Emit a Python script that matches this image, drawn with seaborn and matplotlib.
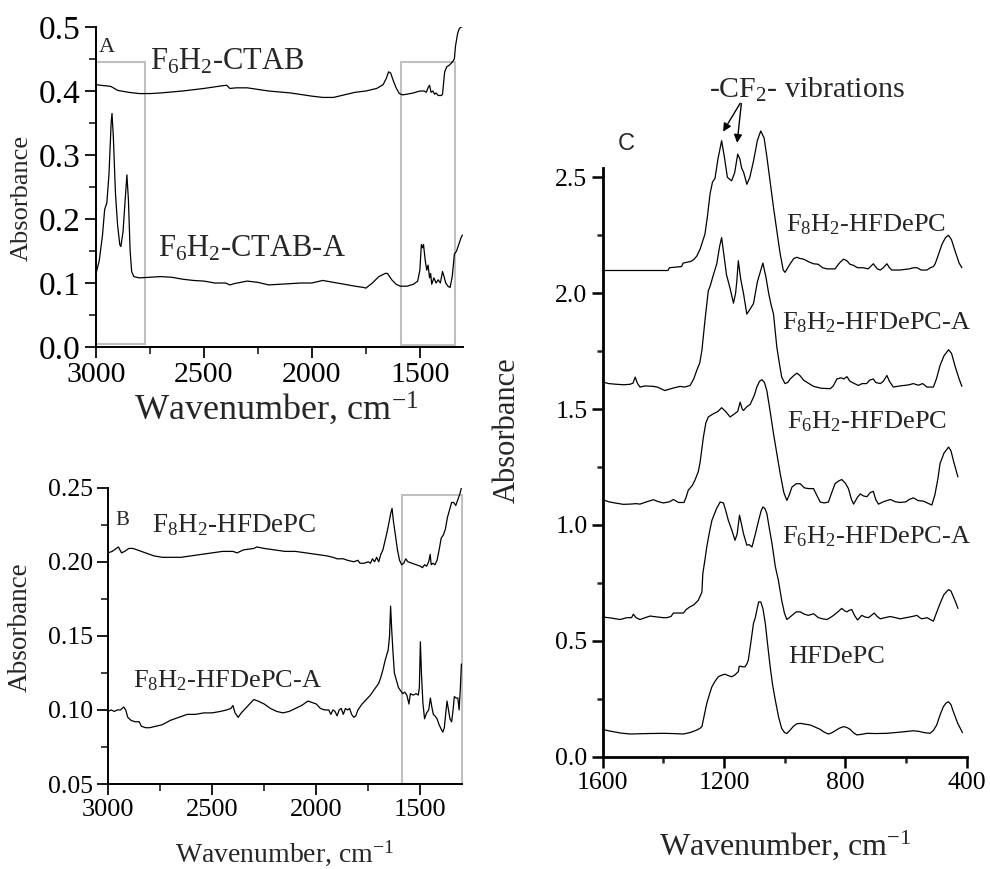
import matplotlib
matplotlib.use("Agg")
import matplotlib.pyplot as plt
from matplotlib.patches import Rectangle
from matplotlib.ticker import MultipleLocator
import seaborn as sns

# ---------------- data ----------------
# Panel A
a_top_wn = [3000, 2980, 2950, 2930, 2900, 2850, 2800, 2750, 2700, 2600, 2500, 2420, 2395, 2380,
            2350, 2300, 2200, 2100, 2000, 1950, 1900, 1850, 1800, 1750, 1700, 1670, 1655, 1645,
            1635, 1625, 1610, 1595, 1580, 1560, 1530, 1500, 1480, 1470, 1462, 1455, 1448, 1440,
            1432, 1425, 1415, 1400, 1395, 1385, 1375, 1365, 1350, 1340, 1335, 1325, 1318, 1310, 1305]
a_top_ab = [0.410, 0.409, 0.408, 0.407, 0.401, 0.398, 0.396, 0.396, 0.397, 0.400, 0.404, 0.408, 0.409, 0.404,
            0.405, 0.405, 0.400, 0.397, 0.392, 0.390, 0.390, 0.394, 0.398, 0.400, 0.404, 0.410, 0.420, 0.430,
            0.428, 0.418, 0.405, 0.396, 0.394, 0.395, 0.397, 0.400, 0.400, 0.398, 0.405, 0.409, 0.398, 0.400,
            0.395, 0.397, 0.393, 0.393, 0.395, 0.430, 0.438, 0.440, 0.445, 0.450, 0.470, 0.490, 0.497, 0.500, 0.500]

a_bot_wn = [3000, 2985, 2970, 2960, 2950, 2940, 2930, 2926, 2920, 2910, 2900, 2890, 2885, 2875, 2865, 2857,
            2850, 2842, 2835, 2825, 2800, 2750, 2700, 2650, 2600, 2550, 2500, 2450, 2400, 2380, 2360, 2300,
            2250, 2200, 2150, 2100, 2050, 2000, 1950, 1900, 1850, 1800, 1760, 1750, 1720, 1690, 1660, 1650,
            1630, 1610, 1590, 1560, 1530, 1510, 1500, 1493, 1487, 1483, 1475, 1468, 1462, 1455, 1450, 1445,
            1435, 1425, 1415, 1405, 1395, 1388, 1380, 1370, 1360, 1350, 1340, 1330, 1320, 1310, 1303]
a_bot_ab = [0.115, 0.135, 0.175, 0.215, 0.225, 0.270, 0.350, 0.365, 0.330, 0.240, 0.190, 0.160, 0.157, 0.180, 0.230, 0.269,
            0.230, 0.150, 0.118, 0.110, 0.108, 0.109, 0.110, 0.109, 0.106, 0.104, 0.103, 0.100, 0.100, 0.097, 0.099, 0.103,
            0.101, 0.097, 0.098, 0.099, 0.100, 0.100, 0.104, 0.101, 0.098, 0.095, 0.093, 0.092, 0.100, 0.110, 0.115, 0.115,
            0.105, 0.098, 0.095, 0.095, 0.098, 0.103, 0.120, 0.160, 0.155, 0.160, 0.135, 0.120, 0.128, 0.108, 0.115, 0.098,
            0.108, 0.100, 0.105, 0.100, 0.118, 0.110, 0.100, 0.095, 0.093, 0.110, 0.145, 0.150, 0.160, 0.170, 0.175]

# Panel B
b_top_wn = [3000, 2980, 2960, 2950, 2935, 2920, 2900, 2880, 2860, 2820, 2780, 2740, 2700, 2650, 2600, 2550,
            2500, 2450, 2400, 2380, 2350, 2300, 2285, 2250, 2200, 2150, 2100, 2050, 2000, 1950, 1920, 1900,
            1870, 1850, 1820, 1800, 1790, 1770, 1750, 1740, 1730, 1720, 1710, 1700, 1690, 1680, 1670, 1660,
            1650, 1642, 1636, 1630, 1620, 1610, 1600, 1590, 1580, 1570, 1560, 1540, 1520, 1500, 1490, 1480,
            1470, 1460, 1453, 1448, 1440, 1430, 1420, 1410, 1400, 1390, 1380, 1370, 1360, 1350, 1340, 1330,
            1320, 1310, 1303]
b_top_ab = [0.206, 0.207, 0.209, 0.210, 0.206, 0.207, 0.209, 0.209, 0.208, 0.206, 0.204, 0.203, 0.203, 0.203, 0.204, 0.205,
            0.206, 0.207, 0.207, 0.206, 0.208, 0.209, 0.210, 0.209, 0.208, 0.207, 0.207, 0.206, 0.205, 0.204, 0.203, 0.202,
            0.202, 0.201, 0.200, 0.201, 0.199, 0.199, 0.200, 0.199, 0.202, 0.200, 0.203, 0.200, 0.205, 0.208, 0.214, 0.220,
            0.227, 0.233, 0.236, 0.228, 0.218, 0.208, 0.201, 0.198, 0.199, 0.202, 0.200, 0.199, 0.198, 0.197, 0.196, 0.198,
            0.197, 0.200, 0.205, 0.198, 0.199, 0.198, 0.201, 0.208, 0.216, 0.218, 0.222, 0.230, 0.235, 0.240, 0.240, 0.238,
            0.242, 0.246, 0.250]

b_bot_wn = [3000, 2985, 2970, 2955, 2940, 2925, 2915, 2905, 2890, 2870, 2850, 2840, 2820, 2800, 2770, 2740,
            2700, 2660, 2620, 2580, 2540, 2500, 2460, 2430, 2410, 2400, 2390, 2375, 2360, 2340, 2320, 2300,
            2280, 2250, 2220, 2190, 2160, 2130, 2100, 2070, 2040, 2020, 2000, 1980, 1960, 1940, 1930, 1920,
            1910, 1900, 1890, 1880, 1870, 1860, 1850, 1840, 1830, 1820, 1810, 1800, 1780, 1760, 1740, 1720,
            1700, 1690, 1680, 1670, 1660, 1655, 1648, 1643, 1638, 1632, 1625, 1615, 1605, 1595, 1585, 1575,
            1565, 1555, 1548, 1535, 1520, 1510, 1505, 1500, 1495, 1488, 1480, 1470, 1460, 1452, 1445, 1438,
            1430, 1420, 1410, 1400, 1392, 1385, 1378, 1372, 1365, 1358, 1350, 1343, 1337, 1328, 1320, 1314,
            1308, 1303]
b_bot_ab = [0.099, 0.100, 0.099, 0.100, 0.100, 0.102, 0.100, 0.095, 0.093, 0.092, 0.092, 0.089, 0.088, 0.088, 0.089, 0.090,
            0.093, 0.095, 0.097, 0.097, 0.098, 0.098, 0.099, 0.100, 0.101, 0.103, 0.098, 0.095, 0.098, 0.101, 0.104, 0.107,
            0.106, 0.104, 0.101, 0.099, 0.098, 0.099, 0.101, 0.103, 0.106, 0.105, 0.104, 0.101, 0.100, 0.100, 0.097, 0.100,
            0.099, 0.096, 0.100, 0.101, 0.097, 0.101, 0.100, 0.101, 0.097, 0.095, 0.096, 0.100, 0.104, 0.107, 0.110, 0.114,
            0.118, 0.122, 0.127, 0.133, 0.138, 0.140, 0.150, 0.170, 0.155, 0.140, 0.125, 0.120, 0.115, 0.113, 0.111, 0.112,
            0.110, 0.104, 0.111, 0.110, 0.111, 0.110, 0.115, 0.146, 0.125, 0.105, 0.094, 0.098, 0.100, 0.108, 0.102, 0.097,
            0.096, 0.094, 0.090, 0.087, 0.085, 0.088, 0.098, 0.106, 0.100, 0.094, 0.092, 0.100, 0.109, 0.108, 0.108, 0.100,
            0.115, 0.131]

# Panel C
c1_wn = [1600, 1500, 1440, 1385, 1380, 1340, 1335, 1310, 1300, 1290, 1279, 1263, 1255, 1246, 1238, 1230,
         1220, 1208, 1198, 1189, 1175, 1165, 1155, 1148, 1142, 1135, 1125, 1115, 1103, 1090, 1079, 1068,
         1059, 1048, 1037, 1025, 1015, 1005, 999, 990, 982, 970, 960, 950, 938, 920, 905, 890, 875, 861,
         845, 834, 820, 806, 795, 785, 773, 760, 741, 725, 708, 695, 685, 675, 663, 655, 647, 620, 590,
         575, 564, 550, 531, 520, 510, 504, 495, 482, 470, 460, 450, 438, 425, 416]
c1_ab = [2.098, 2.098, 2.098, 2.098, 2.110, 2.115, 2.130, 2.137, 2.145, 2.160, 2.190, 2.255, 2.330, 2.430, 2.480, 2.495,
         2.580, 2.658, 2.580, 2.500, 2.485, 2.520, 2.600, 2.580, 2.540, 2.520, 2.470, 2.500, 2.570, 2.660, 2.700, 2.670,
         2.590, 2.480, 2.370, 2.260, 2.170, 2.100, 2.090, 2.110, 2.127, 2.150, 2.155, 2.150, 2.147, 2.135, 2.127, 2.125, 2.110, 2.105,
         2.105, 2.105, 2.130, 2.147, 2.140, 2.125, 2.120, 2.110, 2.110, 2.105, 2.127, 2.105, 2.100, 2.110, 2.127, 2.110, 2.100, 2.100, 2.105,
         2.110, 2.110, 2.100, 2.100, 2.110, 2.115, 2.127, 2.160, 2.210, 2.240, 2.250, 2.230, 2.180, 2.130, 2.110]

c2_wn = [1600, 1580, 1554, 1530, 1510, 1500, 1493, 1485, 1477, 1460, 1433, 1420, 1395, 1370, 1345, 1330,
         1312, 1300, 1290, 1280, 1273, 1263, 1252, 1246, 1235, 1224, 1215, 1208, 1200, 1192, 1180, 1169,
         1162, 1158, 1153, 1145, 1136, 1125, 1115, 1103, 1090, 1072, 1062, 1053, 1045, 1037, 1026, 1018,
         1010, 999, 990, 982, 970, 960, 950, 938, 920, 905, 880, 850, 840, 828, 815, 805, 795, 785, 770,
         757, 745, 730, 720, 708, 700, 685, 675, 663, 655, 642, 620, 600, 590, 576, 560, 545, 531, 510,
         500, 488, 475, 460, 450, 438, 425, 416]
c2_ab = [1.617, 1.610, 1.607, 1.605, 1.607, 1.612, 1.638, 1.610, 1.595, 1.600, 1.598, 1.595, 1.580, 1.590, 1.598, 1.595,
         1.602, 1.630, 1.667, 1.700, 1.753, 1.882, 2.010, 2.030, 2.080, 2.127, 2.200, 2.240, 2.160, 2.080, 2.020, 1.957,
         2.000, 2.050, 2.140, 2.060, 2.000, 1.910, 1.930, 1.955, 2.050, 2.130, 2.070, 2.000, 1.950, 1.910, 1.767, 1.700,
         1.638, 1.610, 1.615, 1.630, 1.645, 1.655, 1.645, 1.625, 1.610, 1.598, 1.590, 1.588, 1.600, 1.630, 1.635, 1.630, 1.640, 1.620, 1.610,
         1.602, 1.610, 1.610, 1.625, 1.630, 1.615, 1.610, 1.620, 1.645, 1.620, 1.595, 1.600, 1.603, 1.605, 1.610, 1.603, 1.610, 1.595, 1.595,
         1.630, 1.688, 1.730, 1.756, 1.740, 1.683, 1.630, 1.598]

c3_wn = [1600, 1580, 1560, 1532, 1510, 1490, 1477, 1455, 1433, 1415, 1400, 1380, 1367, 1350, 1332, 1325,
         1318, 1305, 1296, 1285, 1279, 1268, 1260, 1252, 1235, 1220, 1208, 1195, 1180, 1165, 1155, 1147,
         1140, 1136, 1125, 1114, 1100, 1092, 1083, 1075, 1067, 1059, 1048, 1037, 1025, 1015, 1003, 993,
         985, 976, 962, 949, 935, 922, 905, 895, 883, 870, 856, 845, 834, 822, 812, 800, 790, 780, 773,
         760, 751, 740, 729, 718, 708, 700, 691, 675, 652, 635, 619, 600, 590, 576, 560, 543, 530, 515,
         505, 495, 488, 475, 460, 452, 444, 436, 429]
c3_ab = [1.109, 1.100, 1.095, 1.089, 1.090, 1.092, 1.090, 1.100, 1.109, 1.100, 1.095, 1.100, 1.110, 1.097, 1.097, 1.120,
         1.150, 1.170, 1.193, 1.230, 1.270, 1.380, 1.440, 1.466, 1.480, 1.490, 1.506, 1.490, 1.466, 1.480, 1.490, 1.530,
         1.500, 1.494, 1.510, 1.520, 1.560, 1.595, 1.620, 1.627, 1.615, 1.580, 1.490, 1.394, 1.300, 1.222, 1.140, 1.106,
         1.130, 1.164, 1.178, 1.178, 1.160, 1.157, 1.157, 1.130, 1.099, 1.095, 1.099, 1.140, 1.178, 1.190, 1.196, 1.180, 1.157, 1.110, 1.090,
         1.120, 1.134, 1.125, 1.122, 1.140, 1.145, 1.110, 1.090, 1.100, 1.110, 1.100, 1.097, 1.100, 1.110, 1.117, 1.105, 1.103, 1.095, 1.086,
         1.130, 1.200, 1.265, 1.310, 1.336, 1.320, 1.278, 1.240, 1.207]

c4_wn = [1600, 1570, 1543, 1520, 1505, 1499, 1490, 1477, 1460, 1444, 1420, 1400, 1389, 1375, 1367, 1350,
         1334, 1325, 1312, 1300, 1285, 1273, 1270, 1263, 1257, 1248, 1240, 1225, 1213, 1202, 1194, 1186,
         1175, 1164, 1157, 1149, 1142, 1136, 1125, 1117, 1108, 1097, 1086, 1078, 1072, 1065, 1059, 1050,
         1042, 1031, 1021, 1010, 1001, 993, 985, 976, 962, 949, 935, 922, 905, 889, 875, 861, 850, 839,
         825, 812, 803, 795, 787, 779, 770, 760, 753, 746, 735, 724, 714, 705, 695, 685, 670, 652, 635,
         619, 600, 580, 564, 555, 548, 531, 520, 510, 500, 488, 475, 460, 452, 444, 436, 429]
c4_ab = [0.603, 0.598, 0.592, 0.600, 0.600, 0.615, 0.600, 0.592, 0.600, 0.607, 0.603, 0.600, 0.600, 0.605, 0.620, 0.620,
         0.620, 0.635, 0.647, 0.655, 0.675, 0.710, 0.790, 0.850, 0.905, 0.970, 1.020, 1.070, 1.099, 1.095, 1.060, 1.020,
         0.980, 0.934, 0.960, 1.042, 1.000, 0.963, 0.913, 0.915, 0.905, 0.960, 1.020, 1.060, 1.078, 1.070, 1.050, 0.980,
         0.920, 0.820, 0.762, 0.675, 0.620, 0.592, 0.600, 0.610, 0.625, 0.625, 0.615, 0.610, 0.617, 0.600, 0.595, 0.592, 0.600, 0.610,
         0.625, 0.640, 0.630, 0.625, 0.632, 0.635, 0.610, 0.590, 0.600, 0.610, 0.603, 0.600, 0.610, 0.620, 0.605, 0.595, 0.600, 0.605, 0.600,
         0.595, 0.600, 0.605, 0.610, 0.600, 0.595, 0.600, 0.592, 0.585, 0.620, 0.661, 0.700, 0.721, 0.715, 0.690, 0.665, 0.640]

c5_wn = [1600, 1585, 1565, 1540, 1510, 1480, 1450, 1400, 1370, 1334, 1310, 1290, 1280, 1273, 1265, 1257,
         1248, 1240, 1230, 1219, 1208, 1197, 1186, 1175, 1165, 1153, 1150, 1147, 1140, 1131, 1125, 1120,
         1112, 1103, 1097, 1092, 1086, 1079, 1072, 1064, 1056, 1048, 1040, 1031, 1020, 1010, 1001, 993,
         982, 971, 960, 949, 935, 916, 900, 883, 870, 856, 845, 834, 820, 806, 795, 784, 773, 762, 745,
         729, 700, 663, 620, 576, 560, 540, 521, 510, 499, 488, 477, 468, 460, 452, 444, 430, 414]
c5_ab = [0.118, 0.113, 0.108, 0.102, 0.098, 0.099, 0.100, 0.101, 0.100, 0.098, 0.105, 0.115, 0.122, 0.130, 0.180, 0.230,
         0.270, 0.302, 0.325, 0.345, 0.352, 0.356, 0.350, 0.345, 0.352, 0.367, 0.390, 0.391, 0.388, 0.388, 0.400, 0.417,
         0.490, 0.575, 0.600, 0.632, 0.668, 0.668, 0.640, 0.575, 0.480, 0.388, 0.310, 0.244, 0.170, 0.122, 0.105, 0.100,
         0.115, 0.132, 0.142, 0.144, 0.141, 0.137, 0.128, 0.118, 0.106, 0.098, 0.103, 0.112, 0.123, 0.130, 0.126, 0.118, 0.103, 0.094, 0.097,
         0.101, 0.100, 0.101, 0.106, 0.112, 0.110, 0.104, 0.101, 0.113, 0.137, 0.180, 0.216, 0.232, 0.237, 0.225, 0.194, 0.145, 0.104]

# ---------------- style ----------------
sns.set_style("ticks")
plt.rcParams['font.family'] = ['Liberation Serif', 'DejaVu Serif']
plt.rcParams['mathtext.fontset'] = 'custom'
plt.rcParams['mathtext.rm'] = 'Liberation Serif'
plt.rcParams['mathtext.it'] = 'Liberation Serif:italic'
plt.rcParams['mathtext.bf'] = 'Liberation Serif:bold'

LW = 0.9
GRAY = '#c0c0c0'
XLAB = 'Wavenumber, cm$^{\\mathrm{-1}}$'

fig = plt.figure(figsize=(9.9, 8.69), dpi=100)
axA = fig.add_axes([0.0970, 0.6007, 0.3707, 0.3682])
axB = fig.add_axes([0.1091, 0.0978, 0.3576, 0.3410])
axC = fig.add_axes([0.6088, 0.1292, 0.3677, 0.6774])


def spectrum(ax, wn, ab):
    sns.lineplot(x=wn, y=ab, ax=ax, sort=False, estimator=None, color='black',
                 lw=LW, legend=False)


def style_axes(ax, xsize, ysize, spine_w, major_len, minor_len):
    sns.despine(ax=ax)
    for s in ['left', 'bottom']:
        ax.spines[s].set_linewidth(spine_w)
        ax.spines[s].set_color('black')
    ax.tick_params(which='major', direction='out', length=major_len, width=spine_w * 0.9,
                   colors='black', pad=3)
    ax.tick_params(axis='x', which='major', labelsize=xsize)
    ax.tick_params(axis='y', which='major', labelsize=ysize)
    ax.tick_params(which='minor', direction='out', length=minor_len, width=spine_w * 0.9)
    ax.set_facecolor('white')


# ---- Panel A ----
spectrum(axA, a_top_wn, a_top_ab)
spectrum(axA, a_bot_wn, a_bot_ab)
axA.add_patch(Rectangle((2775, 0.005), 225, 0.440, fill=False, ec=GRAY, lw=1.5))
axA.add_patch(Rectangle((1335, 0.003), 250, 0.442, fill=False, ec=GRAY, lw=1.5))
axA.set_xlim(3000, 1300)
axA.set_ylim(0, 0.5)
axA.xaxis.set_major_locator(MultipleLocator(500))
axA.xaxis.set_minor_locator(MultipleLocator(250))
axA.yaxis.set_major_locator(MultipleLocator(0.1))
axA.yaxis.set_minor_locator(MultipleLocator(0.05))
axA.yaxis.set_major_formatter(plt.FormatStrFormatter('%.1f'))
style_axes(axA, 21.5, 24, 1.4, 8, 5)
axA.set_xlabel(XLAB, fontsize=26)
axA.set_ylabel('Absorbance', fontsize=19)
axA.xaxis.set_label_coords(0.49, -0.135)
axA.yaxis.set_label_coords(-0.172, 0.465)
axA.text(2986, 0.461, 'A', fontsize=16)
axA.text(2751, 0.433, 'F$_\\mathrm{6}$H$_\\mathrm{2}$-CTAB', fontsize=22)
axA.text(2714, 0.142, 'F$_\\mathrm{6}$H$_\\mathrm{2}$-CTAB-A', fontsize=22)

# ---- Panel B ----
spectrum(axB, b_top_wn, b_top_ab)
spectrum(axB, b_bot_wn, b_bot_ab)
axB.add_patch(Rectangle((1300, 0.05), 290, 0.195, fill=False, ec=GRAY, lw=1.5, clip_on=False))
axB.set_xlim(3000, 1300)
axB.set_ylim(0.05, 0.25)
axB.xaxis.set_major_locator(MultipleLocator(500))
axB.xaxis.set_minor_locator(MultipleLocator(250))
axB.yaxis.set_major_locator(MultipleLocator(0.05))
axB.yaxis.set_minor_locator(MultipleLocator(0.025))
axB.yaxis.set_major_formatter(plt.FormatStrFormatter('%.2f'))
style_axes(axB, 19, 18.5, 1.4, 8, 5)
axB.set_xlabel(XLAB, fontsize=20)
axB.set_ylabel('Absorbance', fontsize=19.5)
axB.xaxis.set_label_coords(0.5, -0.183)
axB.yaxis.set_label_coords(-0.212, 0.53)
axB.text(2966, 0.2248, 'B', fontsize=15)
axB.text(2789, 0.2203, 'F$_\\mathrm{8}$H$_\\mathrm{2}$-HFDePC', fontsize=19.5)
axB.text(2880, 0.1153, 'F$_\\mathrm{8}$H$_\\mathrm{2}$-HFDePC-A', fontsize=19)

# ---- Panel C ----
for wn, ab in [(c1_wn, c1_ab), (c2_wn, c2_ab), (c3_wn, c3_ab), (c4_wn, c4_ab), (c5_wn, c5_ab)]:
    spectrum(axC, wn, ab)
for line in axC.get_lines():
    line.set_clip_on(False)
axC.set_xlim(1600, 400)
axC.set_ylim(0, 2.54)
axC.xaxis.set_major_locator(MultipleLocator(400))
axC.xaxis.set_minor_locator(MultipleLocator(200))
axC.yaxis.set_major_locator(MultipleLocator(0.5))
axC.yaxis.set_minor_locator(MultipleLocator(0.25))
axC.yaxis.set_major_formatter(plt.FormatStrFormatter('%.1f'))
style_axes(axC, 18.5, 18.5, 2.0, 8, 4.5)
axC.set_xlabel(XLAB, fontsize=23)
axC.set_ylabel('Absorbance', fontsize=22)
axC.xaxis.set_label_coords(0.5, -0.122)
axC.yaxis.set_label_coords(-0.2225, 0.555)
axC.text(1550, 2.62, 'C', fontsize=17, family=['Liberation Sans', 'DejaVu Sans'])
axC.text(1249, 2.845, '-CF$_\\mathrm{2}$- vibrations', fontsize=21.5)
axC.annotate('', xy=(1208, 2.687), xytext=(1142, 2.83), annotation_clip=False,
             arrowprops=dict(arrowstyle='-|>', color='black', lw=1.0, mutation_scale=12))
axC.annotate('', xy=(1158, 2.637), xytext=(1142, 2.83), annotation_clip=False,
             arrowprops=dict(arrowstyle='-|>', color='black', lw=1.0, mutation_scale=12))
axC.text(995, 2.268, 'F$_\\mathrm{8}$H$_\\mathrm{2}$-HFDePC', fontsize=19)
axC.text(1008, 1.843, 'F$_\\mathrm{8}$H$_\\mathrm{2}$-HFDePC-A', fontsize=19)
axC.text(992, 1.417, 'F$_\\mathrm{6}$H$_\\mathrm{2}$-HFDePC', fontsize=19)
axC.text(1008, 0.921, 'F$_\\mathrm{6}$H$_\\mathrm{2}$-HFDePC-A', fontsize=19)
axC.text(989, 0.404, 'HFDePC', fontsize=19)

fig.savefig('out.png', dpi=100, facecolor='white')
